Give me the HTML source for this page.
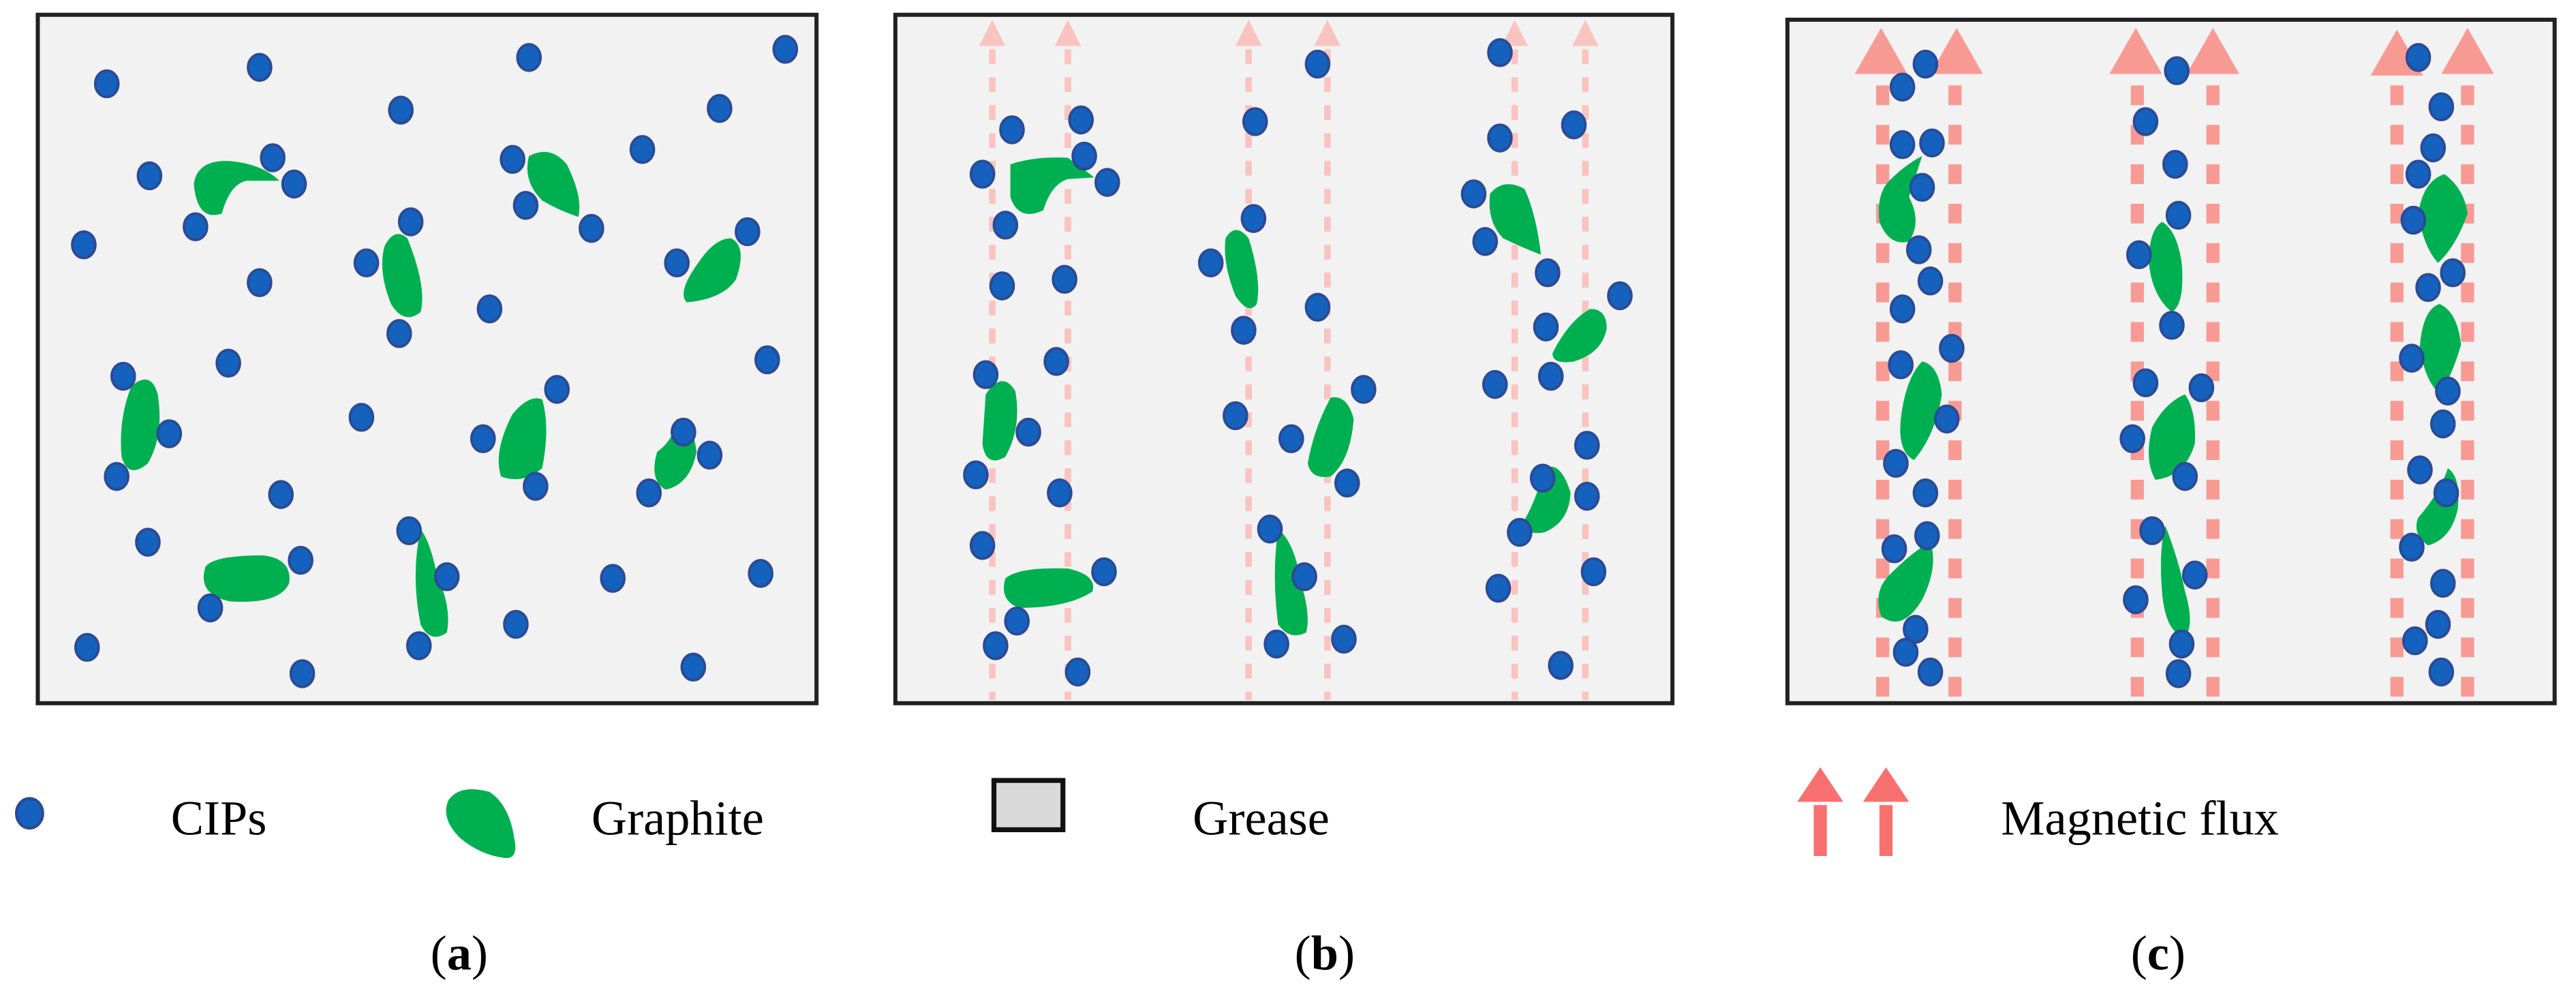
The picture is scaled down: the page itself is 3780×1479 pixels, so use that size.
<!DOCTYPE html>
<html><head><meta charset="utf-8"><style>
html,body{margin:0;padding:0;background:#fff}
svg{display:block}
text{font-family:"Liberation Serif",serif;fill:#000}
</style></head><body>
<svg width="3780" height="1479" viewBox="0 0 1568 613.5" xmlns="http://www.w3.org/2000/svg">
<defs>
<g id="d"><ellipse cx="0" cy="0" rx="7" ry="8" fill="#1462bd" stroke="#2b4a96" stroke-width="1.6"/></g>
</defs>
<rect x="23" y="9" width="474" height="419" fill="#f2f2f2" stroke="#222" stroke-width="2.5"/>
<rect x="545" y="9" width="473" height="419" fill="#f2f2f2" stroke="#222" stroke-width="2.5"/>
<rect x="1088" y="12" width="467" height="416" fill="#f2f2f2" stroke="#222" stroke-width="2.5"/>

<g stroke="#f9c4c0" stroke-width="4" stroke-dasharray="9 8">
<line x1="604" y1="30" x2="604" y2="426"/><line x1="650" y1="30" x2="650" y2="426"/>
<line x1="760" y1="30" x2="760" y2="426"/><line x1="808" y1="30" x2="808" y2="426"/>
<line x1="922" y1="30" x2="922" y2="426"/><line x1="965" y1="30" x2="965" y2="426"/>
</g>
<g fill="#f9c4c0">
<polygon points="604,12 596,28 612,28"/><polygon points="650,12 642,28 658,28"/>
<polygon points="760,12 752,28 768,28"/><polygon points="808,12 800,28 816,28"/>
<polygon points="922,12 914,28 930,28"/><polygon points="965,12 957,28 973,28"/>
</g>
<g stroke="#f89a94" stroke-width="8" stroke-dasharray="12 12">
<line x1="1146" y1="52" x2="1146" y2="428"/><line x1="1190" y1="52" x2="1190" y2="428"/>
<line x1="1301" y1="52" x2="1301" y2="428"/><line x1="1347" y1="52" x2="1347" y2="428"/>
<line x1="1459" y1="52" x2="1459" y2="428"/><line x1="1502" y1="52" x2="1502" y2="428"/>
</g>
<g fill="#f89a94">
<polygon points="1145,17 1129,45 1161,45"/><polygon points="1191,17 1175,45 1207,45"/>
<polygon points="1300,17 1284,45 1316,45"/><polygon points="1347,17 1331,45 1363,45"/>
<polygon points="1459,18 1443,46 1475,46"/><polygon points="1502,17 1486,45 1518,45"/>
</g>

<g fill="#00b050">
<path d="M118,112 Q120,97 140,98 Q160,100 170,110 L150,110 Q140,112 135,130 Q120,135 118,112Z"/>
<path d="M234,150 Q240,138 248,145 Q260,175 256,190 Q246,198 238,185 Q230,165 234,150Z"/>
<path d="M322,95 Q335,88 345,100 Q355,120 352,132 Q340,128 330,122 Q318,110 322,95Z"/>
<path d="M445,145 Q455,150 448,170 Q440,182 418,184 Q412,178 425,160 Q435,145 445,145Z"/>
<path d="M80,235 Q92,225 96,240 Q100,265 90,282 Q78,292 74,278 Q72,255 80,235Z"/>
<path d="M312,252 Q322,240 330,243 Q335,260 330,285 Q318,295 305,290 Q300,275 312,252Z"/>
<path d="M400,275 Q410,268 412,255 Q422,258 424,275 Q420,295 405,298 Q395,292 400,275Z"/>
<path d="M125,345 Q130,338 160,338 Q178,340 176,355 Q170,368 140,366 Q120,362 125,345Z"/>
<path d="M256,322 Q262,330 266,350 Q275,370 272,385 Q262,392 256,380 Q250,350 256,322Z"/>
<path d="M615,100 Q630,95 650,96 Q660,103 666,108 L650,109 Q640,112 635,128 Q620,135 615,120Z"/>
<path d="M746,145 Q752,135 760,145 Q768,170 765,185 Q760,192 752,180 Q744,160 746,145Z"/>
<path d="M907,118 Q915,108 928,115 Q935,130 938,155 Q925,150 915,145 Q905,135 907,118Z"/>
<path d="M968,188 Q978,188 978,200 Q975,215 958,220 Q945,222 945,215 Q955,195 968,188Z"/>
<path d="M600,240 Q610,225 618,238 Q622,260 612,278 Q600,285 598,270 Z"/>
<path d="M810,242 Q820,240 824,255 Q822,280 810,290 Q798,292 796,282 Q800,260 810,242Z"/>
<path d="M940,285 Q950,280 956,300 Q955,318 940,324 Q928,326 927,318 Q935,305 940,285Z"/>
<path d="M612,352 Q620,345 650,346 Q668,350 665,360 Q650,370 620,370 Q608,365 612,352Z"/>
<path d="M778,322 Q788,330 792,355 Q798,375 795,385 Q785,390 778,380 Q774,350 778,322Z"/>
<path d="M1170,95 Q1165,110 1162,120 Q1170,135 1162,147 Q1150,150 1144,135 Q1142,118 1150,110 Q1160,100 1170,95Z"/>
<path d="M1316,135 Q1325,140 1328,160 Q1330,185 1322,190 Q1310,180 1308,160 Q1308,140 1316,135Z"/>
<path d="M1488,106 Q1500,115 1502,130 Q1495,150 1484,160 Q1475,150 1472,130 Q1475,110 1488,106Z"/>
<path d="M1485,185 Q1496,190 1498,210 Q1492,230 1485,240 Q1475,230 1473,210 Q1475,188 1485,185Z"/>
<path d="M1170,220 Q1180,222 1182,240 Q1178,265 1165,280 Q1155,275 1157,255 Q1160,230 1170,220Z"/>
<path d="M1330,240 Q1337,250 1336,270 Q1330,290 1312,292 Q1305,280 1310,260 Q1318,245 1330,240Z"/>
<path d="M1490,285 Q1498,290 1496,310 Q1492,328 1478,332 Q1468,325 1472,315 Q1485,300 1490,285Z"/>
<path d="M1175,330 Q1180,345 1170,365 Q1158,385 1145,375 Q1140,360 1150,350 Q1165,335 1175,330Z"/>
<path d="M1318,320 Q1326,340 1330,360 Q1336,380 1330,388 Q1318,385 1316,360 Q1314,335 1318,320Z"/>
</g>

<g>
<use href="#d" x="65" y="51"/><use href="#d" x="158" y="41"/><use href="#d" x="322" y="35"/><use href="#d" x="478" y="30"/>
<use href="#d" x="244" y="67"/><use href="#d" x="438" y="66"/><use href="#d" x="91" y="107"/><use href="#d" x="166" y="96"/>
<use href="#d" x="179" y="112"/><use href="#d" x="312" y="97"/><use href="#d" x="320" y="125"/><use href="#d" x="391" y="91"/>
<use href="#d" x="119" y="138"/><use href="#d" x="250" y="135"/><use href="#d" x="360" y="139"/><use href="#d" x="51" y="149"/>
<use href="#d" x="455" y="141"/><use href="#d" x="223" y="160"/><use href="#d" x="412" y="160"/><use href="#d" x="158" y="172"/>
<use href="#d" x="298" y="188"/><use href="#d" x="243" y="203"/><use href="#d" x="139" y="221"/><use href="#d" x="467" y="219"/>
<use href="#d" x="75" y="229"/><use href="#d" x="339" y="237"/><use href="#d" x="103" y="264"/><use href="#d" x="220" y="254"/>
<use href="#d" x="294" y="267"/><use href="#d" x="416" y="263"/><use href="#d" x="432" y="277"/><use href="#d" x="71" y="290"/>
<use href="#d" x="326" y="296"/><use href="#d" x="171" y="301"/><use href="#d" x="395" y="300"/><use href="#d" x="90" y="330"/>
<use href="#d" x="249" y="323"/><use href="#d" x="183" y="341"/><use href="#d" x="272" y="351"/><use href="#d" x="373" y="352"/>
<use href="#d" x="463" y="349"/><use href="#d" x="128" y="370"/><use href="#d" x="314" y="380"/><use href="#d" x="53" y="394"/>
<use href="#d" x="184" y="410"/><use href="#d" x="255" y="393"/><use href="#d" x="422" y="406"/>
</g>
<g>
<use href="#d" x="616" y="79"/><use href="#d" x="658" y="73"/><use href="#d" x="598" y="106"/><use href="#d" x="660" y="95"/>
<use href="#d" x="674" y="111"/><use href="#d" x="612" y="137"/><use href="#d" x="610" y="174"/><use href="#d" x="648" y="170"/>
<use href="#d" x="600" y="228"/><use href="#d" x="643" y="220"/><use href="#d" x="626" y="263"/><use href="#d" x="594" y="289"/>
<use href="#d" x="645" y="300"/><use href="#d" x="598" y="332"/><use href="#d" x="672" y="348"/><use href="#d" x="619" y="378"/>
<use href="#d" x="606" y="393"/><use href="#d" x="656" y="409"/>
<use href="#d" x="802" y="39"/><use href="#d" x="764" y="74"/><use href="#d" x="763" y="133"/><use href="#d" x="737" y="160"/>
<use href="#d" x="757" y="201"/><use href="#d" x="802" y="187"/><use href="#d" x="752" y="253"/><use href="#d" x="786" y="267"/>
<use href="#d" x="830" y="237"/><use href="#d" x="820" y="294"/><use href="#d" x="773" y="322"/><use href="#d" x="794" y="351"/>
<use href="#d" x="777" y="392"/><use href="#d" x="818" y="389"/>
<use href="#d" x="913" y="32"/><use href="#d" x="913" y="84"/><use href="#d" x="958" y="76"/><use href="#d" x="897" y="118"/>
<use href="#d" x="904" y="147"/><use href="#d" x="942" y="166"/><use href="#d" x="986" y="180"/><use href="#d" x="941" y="199"/>
<use href="#d" x="910" y="234"/><use href="#d" x="944" y="229"/><use href="#d" x="966" y="271"/><use href="#d" x="939" y="291"/>
<use href="#d" x="925" y="324"/><use href="#d" x="966" y="302"/><use href="#d" x="912" y="358"/><use href="#d" x="970" y="348"/>
<use href="#d" x="950" y="405"/>
</g>
<g>
<use href="#d" x="1172" y="39"/><use href="#d" x="1158" y="53"/><use href="#d" x="1158" y="88"/><use href="#d" x="1176" y="87"/>
<use href="#d" x="1170" y="114"/><use href="#d" x="1168" y="152"/><use href="#d" x="1175" y="171"/><use href="#d" x="1158" y="188"/>
<use href="#d" x="1188" y="212"/><use href="#d" x="1157" y="222"/><use href="#d" x="1185" y="255"/><use href="#d" x="1154" y="282"/>
<use href="#d" x="1172" y="300"/><use href="#d" x="1153" y="334"/><use href="#d" x="1173" y="326"/><use href="#d" x="1166" y="383"/>
<use href="#d" x="1160" y="397"/><use href="#d" x="1175" y="409"/>
<use href="#d" x="1325" y="43"/><use href="#d" x="1306" y="74"/><use href="#d" x="1324" y="100"/><use href="#d" x="1326" y="131"/>
<use href="#d" x="1302" y="155"/><use href="#d" x="1322" y="198"/><use href="#d" x="1340" y="236"/><use href="#d" x="1306" y="233"/>
<use href="#d" x="1298" y="267"/><use href="#d" x="1330" y="290"/><use href="#d" x="1310" y="323"/><use href="#d" x="1336" y="350"/>
<use href="#d" x="1300" y="365"/><use href="#d" x="1328" y="392"/><use href="#d" x="1326" y="410"/>
<use href="#d" x="1472" y="35"/><use href="#d" x="1486" y="65"/><use href="#d" x="1481" y="90"/><use href="#d" x="1472" y="106"/>
<use href="#d" x="1469" y="134"/><use href="#d" x="1493" y="166"/><use href="#d" x="1478" y="175"/><use href="#d" x="1468" y="218"/>
<use href="#d" x="1490" y="238"/><use href="#d" x="1487" y="258"/><use href="#d" x="1473" y="286"/><use href="#d" x="1489" y="300"/>
<use href="#d" x="1468" y="333"/><use href="#d" x="1487" y="355"/><use href="#d" x="1484" y="380"/><use href="#d" x="1470" y="390"/>
<use href="#d" x="1486" y="409"/>
</g>

<ellipse cx="18" cy="495" rx="8" ry="9" fill="#1462bd" stroke="#2b4a96" stroke-width="1.8"/>
<text x="104" y="508" font-size="30">CIPs</text>
<path d="M273,487 Q280,477 298,482 Q310,490 313,510 Q316,524 306,522 Q292,520 280,510 Q268,498 273,487Z" fill="#00b050"/>
<text x="360" y="508" font-size="30">Graphite</text>
<rect x="605" y="475" width="42" height="30" fill="#d9d9d9" stroke="#111" stroke-width="3"/>
<text x="726" y="508" font-size="30">Grease</text>
<g fill="#f87070">
<polygon points="1108,467 1094,488 1122,488"/><rect x="1104" y="490" width="8" height="31"/>
<polygon points="1148,467 1134,488 1162,488"/><rect x="1144" y="490" width="8" height="31"/>
</g>
<text x="1218" y="508" font-size="30">Magnetic flux</text>

<text x="262" y="590" font-size="30">(<tspan font-weight="bold">a</tspan>)</text>
<text x="788" y="590" font-size="30">(<tspan font-weight="bold">b</tspan>)</text>
<text x="1297" y="590" font-size="30">(<tspan font-weight="bold">c</tspan>)</text>
</svg>
</body></html>
